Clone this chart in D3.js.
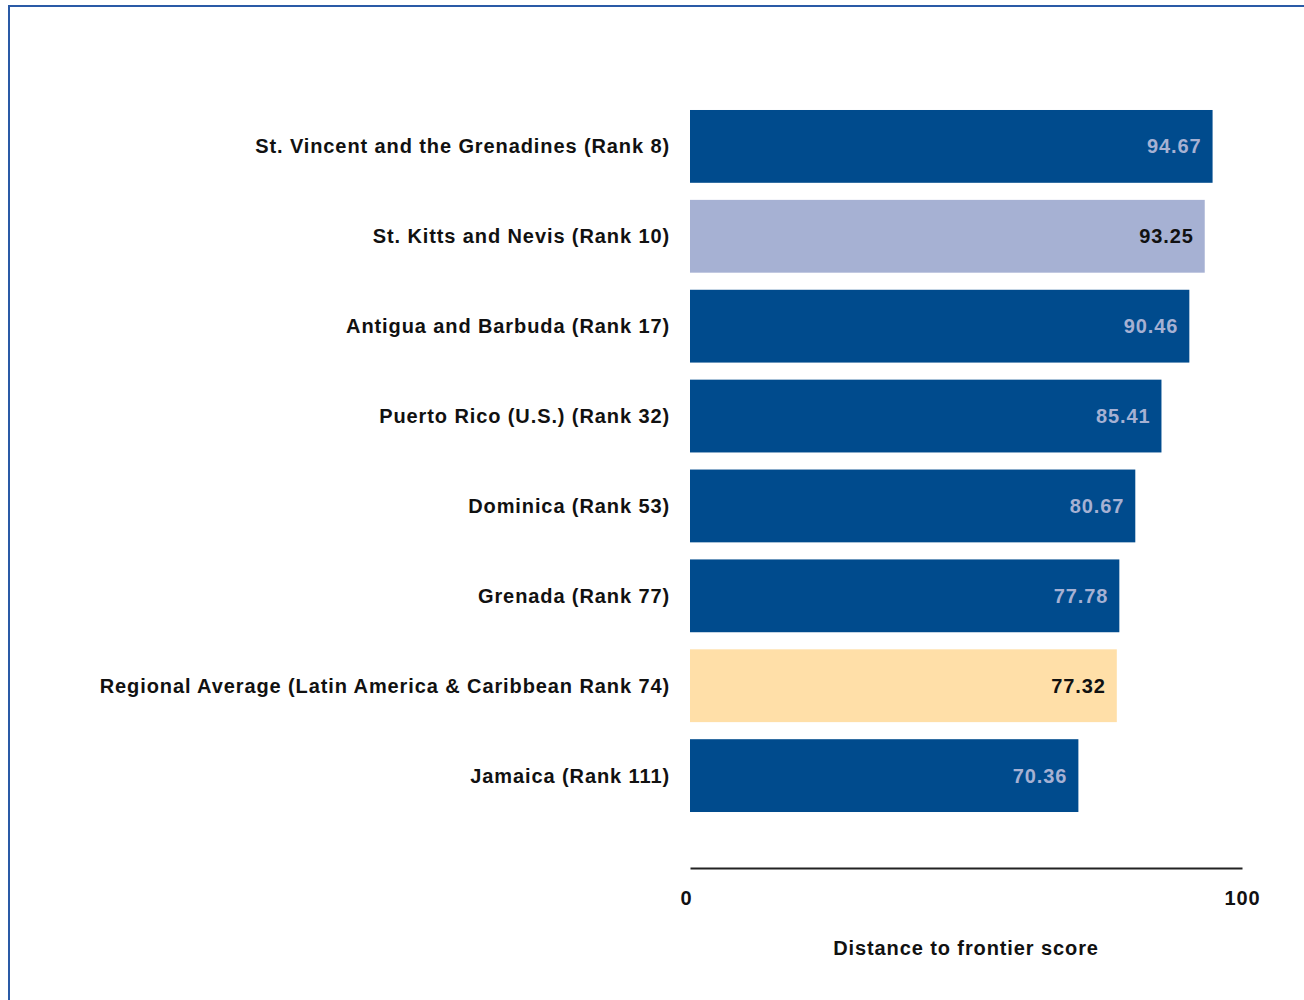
<!DOCTYPE html>
<html>
<head>
<meta charset="utf-8">
<script src="https://cdn.jsdelivr.net/npm/d3@7"></script>
<style>
  body { margin: 0; background: #fff; }
  text { font-family: "Liberation Sans", Arial, sans-serif; font-weight: bold; letter-spacing: 0.9px; }
</style>
</head>
<body>
<svg id="chart"></svg>
<script>
const labels = [
  'St. Vincent and the Grenadines (Rank 8)',
  'St. Kitts and Nevis (Rank 10)',
  'Antigua and Barbuda (Rank 17)',
  'Puerto Rico (U.S.) (Rank 32)',
  'Dominica (Rank 53)',
  'Grenada (Rank 77)',
  'Regional Average (Latin America & Caribbean Rank 74)',
  'Jamaica (Rank 111)'
]
const scores = [94.67, 93.25, 90.46, 85.41, 80.67, 77.78, 77.32, 70.36]
const kinds = ['main', 'highlight', 'main', 'main', 'main', 'main', 'average', 'main']
const xTicks = [0, 100]

const fill = { main: '#004b8d', highlight: '#a6b1d3', average: '#ffdfa8' }
const valueColor = { main: '#a6b1d3', highlight: '#111', average: '#111' }

const totalWidth = 1304, totalHeight = 1000
const margin = { left: 690, top: 100, right: 62, bottom: 132 }
const width = totalWidth - margin.left - margin.right

const svg = d3.select('#chart')
  .attr('width', totalWidth)
  .attr('height', totalHeight)

// FRAME
svg.append('path')
  .attr('d', `M9,${totalHeight} V6 H${totalWidth}`)
  .attr('fill', 'none')
  .attr('stroke', '#2a5aa6')
  .attr('stroke-width', 2)

const plot = svg.append('g')
  .attr('transform', `translate(${margin.left}, ${margin.top})`)

const x = d3.scaleLinear().domain([0, 100]).range([0, width])
const y = d3.scaleBand().domain(labels).range([1, 721]).paddingInner(0.19).paddingOuter(0.1)

plot.selectAll('rect')
  .data(labels)
  .enter()
  .append('rect')
    .attr('x', x(0))
    .attr('y', d => y(d))
    .attr('width', (d, i) => x(scores[i]) - x(0))
    .attr('height', y.bandwidth())
    .attr('fill', (d, i) => fill[kinds[i]])

plot.selectAll('.value')
  .data(labels)
  .enter()
  .append('text')
    .attr('class', 'value')
    .attr('x', (d, i) => x(scores[i]) - 11)
    .attr('y', d => y(d) + y.bandwidth() / 2)
    .attr('dy', '0.35em')
    .attr('text-anchor', 'end')
    .attr('font-size', 20)
    .attr('fill', (d, i) => valueColor[kinds[i]])
    .text((d, i) => scores[i].toFixed(2))

plot.selectAll('.label')
  .data(labels)
  .enter()
  .append('text')
    .attr('class', 'label')
    .attr('x', -20)
    .attr('y', d => y(d) + y.bandwidth() / 2)
    .attr('dy', '0.35em')
    .attr('text-anchor', 'end')
    .attr('font-size', 20)
    .attr('fill', '#111')
    .text(d => d)

// AXIS
const axisY = 768
const xAxis = d3.axisBottom(x).tickValues(xTicks).tickSize(0).tickPadding(23)
const axisG = plot.append('g')
  .attr('transform', `translate(0, ${axisY})`)
  .call(xAxis)
axisG.select('.domain').attr('stroke', '#222').attr('stroke-width', 2)
axisG.selectAll('text')
  .attr('font-size', 20)
  .attr('fill', '#111')
  .attr('font-family', '"Liberation Sans", Arial, sans-serif')
  .attr('font-weight', 'bold')
  .attr('dx', (d, i) => i === 0 ? -4 : 0)

plot.append('text')
  .attr('x', width / 2)
  .attr('y', axisY + 87)
  .attr('text-anchor', 'middle')
  .attr('font-size', 20)
  .attr('fill', '#111')
  .text('Distance to frontier score')
</script>
</body>
</html>
